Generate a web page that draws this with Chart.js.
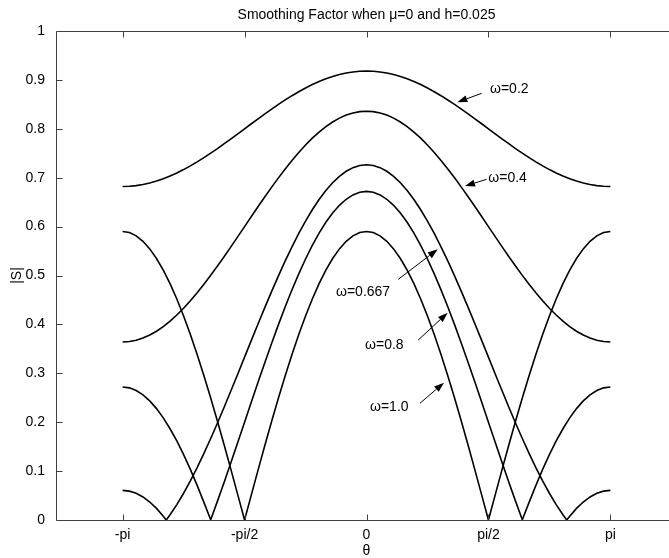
<!DOCTYPE html>
<html>
<head>
<meta charset="utf-8">
<script src="https://cdn.jsdelivr.net/npm/chart.js@4.4.1/dist/chart.umd.min.js"></script>
<style>
html,body{margin:0;padding:0;overflow:hidden;background:#fff;}
#wrap{width:669px;height:558px;overflow:hidden;}
canvas{display:block;}
</style>
</head>
<body>
<div id="wrap"><canvas id="c" width="700" height="558"></canvas></div>
<script>
// ---- data ----
const thetaDeg = [-180,-175,-170,-165,-160,-155,-150,-145,-140,-135,-130,-125,-120,-115,-110,-105,-100,-95,-90,-85,-80,-75,-70,-65,-60,-55,-50,-45,-40,-35,-30,-25,-20,-15,-10,-5,0,5,10,15,20,25,30,35,40,45,50,55,60,65,70,75,80,85,90,95,100,105,110,115,120,125,130,135,140,145,150,155,160,165,170,175,180];

const omegaLabels = ['ω=0.2','ω=0.4','ω=0.667','ω=0.8','ω=1.0'];

const sOmega02 = [0.682,0.6825,0.6838,0.686,0.6891,0.6931,0.6978,0.7033,0.7096,0.7166,0.7241,0.7323,0.741,0.7501,0.7596,0.7695,0.7795,0.7897,0.8,0.8103,0.8205,0.8305,0.8404,0.8499,0.859,0.8677,0.8758,0.8834,0.8904,0.8967,0.9022,0.9069,0.9109,0.914,0.9162,0.9176,
0.918,
0.9176,0.9162,0.914,0.9109,0.9069,0.9022,0.8967,0.8904,0.8834,0.8758,0.8677,0.859,0.8499,0.8404,0.8305,0.8205,0.8103,0.8,0.7897,0.7795,0.7695,0.7596,0.7501,0.741,0.7323,0.7241,0.7166,0.7096,0.7033,0.6978,0.6931,0.6891,0.686,0.6838,0.6825,0.682];

const sOmega04 = [0.364,0.3649,0.3676,0.372,0.3782,0.3861,0.3956,0.4067,0.4192,0.4331,0.4483,0.4646,0.482,0.5003,0.5193,0.5389,0.559,0.5794,0.6,0.6206,0.641,0.6611,0.6807,0.6997,0.718,0.7354,0.7517,0.7669,0.7808,0.7933,0.8044,0.8139,0.8218,0.828,0.8324,0.8351,
0.836,
0.8351,0.8324,0.828,0.8218,0.8139,0.8044,0.7933,0.7808,0.7669,0.7517,0.7354,0.718,0.6997,0.6807,0.6611,0.641,0.6206,0.6,0.5794,0.559,0.5389,0.5193,0.5003,0.482,0.4646,0.4483,0.4331,0.4192,0.4067,0.3956,0.3861,0.3782,0.372,0.3676,0.3649,0.364];

const sOmega0667 = [0.0605,0.059,0.0546,0.0471,0.0368,0.0237,0.0078,0.0106,0.0315,0.0547,0.08,0.1073,0.1362,0.1667,0.1984,0.2312,0.2647,0.2987,0.333,0.3673,0.4013,0.4349,0.4676,0.4993,0.5298,0.5587,0.586,0.6113,0.6345,0.6554,0.6738,0.6897,0.7028,0.7131,0.7206,0.725,
0.7265,
0.725,0.7206,0.7131,0.7028,0.6897,0.6738,0.6554,0.6345,0.6113,0.586,0.5587,0.5298,0.4993,0.4676,0.4349,0.4013,0.3673,0.333,0.2987,0.2647,0.2312,0.1984,0.1667,0.1362,0.1073,0.08,0.0547,0.0315,0.0106,0.0078,0.0237,0.0368,0.0471,0.0546,0.059,0.0605];
const zeroDeg0667 = [-147.8, 147.8];

const sOmega08 = [0.272,0.2702,0.2648,0.2559,0.2435,0.2278,0.2088,0.1866,0.1616,0.1338,0.1034,0.0707,0.036,0.0005,0.0386,0.0778,0.118,0.1589,0.2,0.2411,0.282,0.3222,0.3614,0.3995,0.436,0.4707,0.5034,0.5338,0.5616,0.5866,0.6088,0.6278,0.6435,0.6559,0.6648,0.6702,
0.672,
0.6702,0.6648,0.6559,0.6435,0.6278,0.6088,0.5866,0.5616,0.5338,0.5034,0.4707,0.436,0.3995,0.3614,0.3222,0.282,0.2411,0.2,0.1589,0.118,0.0778,0.0386,0.0005,0.036,0.0707,0.1034,0.1338,0.1616,0.1866,0.2088,0.2278,0.2435,0.2559,0.2648,0.2702,0.272];

const sOmega10 = [0.59,0.5878,0.581,0.5699,0.5544,0.5347,0.511,0.4833,0.452,0.4172,0.3793,0.3384,0.295,0.2494,0.2018,0.1527,0.1025,0.0514,0,0.0514,0.1025,0.1527,0.2018,0.2494,0.295,0.3384,0.3793,0.4172,0.452,0.4833,0.511,0.5347,0.5544,0.5699,0.581,0.5878,
0.59,
0.5878,0.581,0.5699,0.5544,0.5347,0.511,0.4833,0.452,0.4172,0.3793,0.3384,0.295,0.2494,0.2018,0.1527,0.1025,0.0514,0,0.0514,0.1025,0.1527,0.2018,0.2494,0.295,0.3384,0.3793,0.4172,0.452,0.4833,0.511,0.5347,0.5544,0.5699,0.581,0.5878,0.59];

const xTickVals = [-Math.PI, -Math.PI/2, 0, Math.PI/2, Math.PI];
const xTickLabels = ['-pi','-pi/2','0','pi/2','pi'];
const yTickVals = [0,0.1,0.2,0.3,0.4,0.5,0.6,0.7,0.8,0.9,1];
const yTickLabels = ['0','0.1','0.2','0.3','0.4','0.5','0.6','0.7','0.8','0.9','1'];

// annotation placement in data units (theta, |S|)
const notes = [
  {text:'ω=0.2',   tx:1.591,  ty:0.8814, fx:1.484, fy:0.8726, hx:1.170, hy:0.8542},
  {text:'ω=0.4',   tx:1.569,  ty:0.6988, fx:1.548, fy:0.6967, hx:1.269, hy:0.6830},
  {text:'ω=0.667', tx:-0.393, ty:0.4656, fx:0.410, fy:0.4922, hx:0.917, hy:0.5536},
  {text:'ω=0.8',   tx:-0.019, ty:0.3579, fx:0.667, fy:0.3681, hx:1.046, hy:0.4239},
  {text:'ω=1.0',   tx:0.045,  ty:0.2317, fx:0.689, fy:0.2387, hx:0.998, hy:0.2808}
];

// ---- build ----
const FONT = "'Liberation Sans', Arial, sans-serif";
Chart.defaults.font.family = FONT;
Chart.defaults.color = '#000';

const rad = d => d * Math.PI / 180;
function pts(vals, zerosDeg) {
  const p = thetaDeg.map((d, i) => ({x: rad(d), y: vals[i]}));
  (zerosDeg || []).forEach(d => p.push({x: rad(d), y: 0}));
  p.sort((a, b) => a.x - b.x);
  return p;
}
const seriesVals = [sOmega02, sOmega04, sOmega0667, sOmega08, sOmega10];
const seriesZeros = [null, null, zeroDeg0667, null, null];

const datasets = seriesVals.map((v, i) => ({
  label: omegaLabels[i],
  data: pts(v, seriesZeros[i]),
  borderColor: '#000',
  borderWidth: 1.6,
  pointRadius: 0,
  tension: 0,
  fill: false
}));

const framePlugin = {
  id: 'frame',
  afterDatasetsDraw(chart) {
    const {ctx, chartArea: a, scales: {x, y}} = chart;
    const L = Math.round(a.left) + 0.5, R = Math.round(a.right) + 0.5;
    const T = Math.round(a.top) + 0.5, B = Math.round(a.bottom) + 0.5;
    ctx.save();
    ctx.strokeStyle = '#404040';
    ctx.lineWidth = 1;
    ctx.beginPath();
    ctx.moveTo(L, T); ctx.lineTo(R, T); ctx.lineTo(R, B); ctx.lineTo(L, B); ctx.closePath();
    xTickVals.forEach(v => {
      const px = Math.round(x.getPixelForValue(v)) + 0.5;
      ctx.moveTo(px, B); ctx.lineTo(px, B - 6);
      ctx.moveTo(px, T); ctx.lineTo(px, T + 6);
    });
    yTickVals.forEach(v => {
      const py = Math.round(y.getPixelForValue(v)) + 0.5;
      ctx.moveTo(L, py); ctx.lineTo(L + 6, py);
      ctx.moveTo(R, py); ctx.lineTo(R - 6, py);
    });
    ctx.stroke();

    // annotations
    ctx.font = '14px ' + FONT;
    ctx.fillStyle = '#000';
    ctx.strokeStyle = '#000';
    ctx.textAlign = 'left';
    ctx.textBaseline = 'middle';
    notes.forEach(n => {
      ctx.fillText(n.text, x.getPixelForValue(n.tx), y.getPixelForValue(n.ty));
      const x1 = x.getPixelForValue(n.fx), y1 = y.getPixelForValue(n.fy);
      const x2 = x.getPixelForValue(n.hx), y2 = y.getPixelForValue(n.hy);
      const ang = Math.atan2(y2 - y1, x2 - x1);
      const len = 10, hw = 3.5;
      const bx = x2 - len * Math.cos(ang), by = y2 - len * Math.sin(ang);
      ctx.lineWidth = 1;
      ctx.beginPath();
      ctx.moveTo(x1, y1); ctx.lineTo(bx, by);
      ctx.stroke();
      ctx.beginPath();
      ctx.moveTo(x2, y2);
      ctx.lineTo(bx + hw * Math.sin(ang), by - hw * Math.cos(ang));
      ctx.lineTo(bx - hw * Math.sin(ang), by + hw * Math.cos(ang));
      ctx.closePath();
      ctx.fill();
    });
    ctx.restore();
  }
};

new Chart(document.getElementById('c'), {
  type: 'line',
  data: {datasets},
  plugins: [framePlugin],
  options: {
    responsive: false,
    animation: false,
    devicePixelRatio: 1,
    layout: {padding: {left: 0, right: 23, top: 0, bottom: 0}},
    plugins: {
      legend: {display: false},
      tooltip: {enabled: false},
      title: {
        display: true,
        text: 'Smoothing Factor when μ=0 and h=0.025',
        fullSize: false,
        color: '#000',
        font: {size: 14, weight: 'normal', family: FONT, lineHeight: 1},
        padding: {top: 8, bottom: 9}
      }
    },
    scales: {
      x: {
        type: 'linear',
        min: -4, max: 4,
        afterBuildTicks: s => { s.ticks = xTickVals.map(v => ({value: v})); },
        afterFit: s => { s.height = 38; },
        ticks: {
          autoSkip: false, maxRotation: 0, padding: 0, color: '#000',
          font: {size: 14, family: FONT, lineHeight: 1},
          callback: (v, i) => xTickLabels[i]
        },
        grid: {display: false},
        border: {display: false},
        title: {display: true, text: 'θ', color: '#000',
          font: {size: 14, family: FONT, lineHeight: 1}, padding: {top: 0, bottom: 0}}
      },
      y: {
        type: 'linear',
        min: 0, max: 1,
        afterBuildTicks: s => { s.ticks = yTickVals.map(v => ({value: v})); },
        afterFit: s => { s.width = 56; },
        ticks: {
          padding: 3, color: '#000',
          font: {size: 14, family: FONT},
          callback: (v, i) => yTickLabels[i]
        },
        grid: {display: false},
        border: {display: false},
        title: {display: true, text: '|S|', color: '#000',
          font: {size: 14, family: FONT, lineHeight: 1}, padding: {top: 10, bottom: 0}}
      }
    }
  }
});
</script>
</body>
</html>
